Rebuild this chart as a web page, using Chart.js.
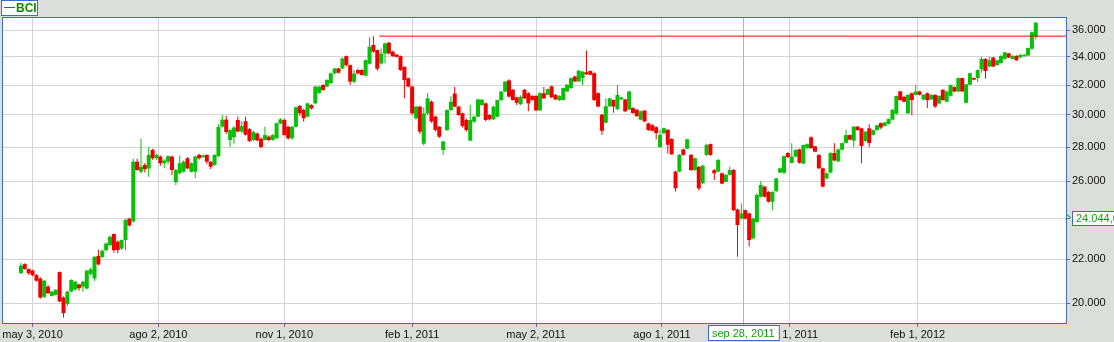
<!DOCTYPE html>
<html><head><meta charset="utf-8">
<style>html,body{margin:0;padding:0;background:#dcdedb;}canvas{display:block;}</style>
<script src="https://cdn.jsdelivr.net/npm/chart.js@4/dist/chart.umd.min.js"></script>
</head><body>
<canvas id="c" width="1114" height="342"></canvas>
<script>
const seriesName = "BCI";
const firstCandleDate = "2010-04-23";
const weekdaysPerCandle = 2;

const opens = [
21.34,21.76,21.53,21.46,21.25,21.10,20.28,20.73,20.32,20.37,
21.39,20.25,19.97,20.51,20.60,20.83,20.73,20.65,21.30,21.10,
22.15,22.10,22.42,22.67,23.22,22.84,22.50,22.92,24.00,23.85,
27.13,26.55,26.94,26.74,27.83,27.33,27.43,27.04,27.13,27.43,
25.96,26.46,26.55,27.33,26.55,26.55,27.53,27.40,27.53,27.13,
26.94,27.47,29.25,29.70,28.43,28.60,29.68,28.95,29.60,29.10,
28.43,28.82,28.50,28.43,28.63,28.43,28.53,29.45,29.68,29.25,
28.53,29.25,30.59,30.33,29.89,30.65,30.76,31.45,32.00,31.89,
32.12,32.81,33.16,33.16,34.05,33.40,32.23,33.05,33.05,32.65,
33.50,34.88,34.50,33.52,34.24,35.05,34.38,34.17,34.05,33.28,
32.47,31.89,29.79,30.54,28.20,30.10,30.87,29.90,29.25,27.82,
29.04,30.32,31.42,30.54,30.11,29.68,28.39,29.57,29.89,30.65,
30.76,30.00,29.72,29.89,30.98,31.55,32.32,31.67,31.16,30.70,
31.67,31.44,31.26,31.26,30.30,31.44,31.33,31.91,31.33,30.98,
30.98,31.56,31.79,32.59,32.25,32.48,32.89,32.98,32.82,31.44,
30.02,29.51,30.57,30.98,30.38,31.02,31.02,30.36,30.45,30.34,
29.70,30.28,29.46,29.35,29.22,28.00,28.84,29.06,28.49,26.56,
26.56,27.86,27.90,27.53,26.64,26.83,25.90,27.53,28.18,26.64,
26.56,26.46,25.98,26.37,26.65,24.48,24.00,24.44,24.27,23.00,
23.83,25.16,25.71,25.42,24.89,25.46,26.50,26.50,27.64,27.06,
27.43,27.86,27.02,27.93,28.59,28.04,27.53,26.75,26.17,26.50,
27.64,27.15,27.84,28.25,28.73,28.39,29.26,29.15,28.36,29.15,
28.74,29.04,29.48,29.30,29.43,29.70,30.08,31.56,31.20,30.11,
31.44,31.33,31.56,31.02,31.44,31.02,31.33,30.75,31.67,30.87,
31.26,31.86,31.56,32.48,30.80,32.02,32.48,32.48,33.09,33.85,
33.30,33.95,33.40,33.55,33.85,34.26,33.85,34.07,33.95,34.05,
34.10,34.60,35.50];
const highs = [
21.82,21.80,21.56,21.50,21.30,21.15,21.03,20.80,20.55,20.62,
21.42,20.30,20.55,21.06,21.00,20.86,21.00,21.50,21.60,22.15,
22.45,22.45,22.80,23.15,23.25,22.90,22.95,24.00,24.05,27.30,
27.30,28.50,27.05,28.02,27.90,27.60,27.50,27.30,27.50,27.50,
26.70,27.50,27.20,27.40,27.10,27.50,27.60,27.56,27.56,27.15,
27.56,29.40,30.00,29.95,29.10,29.30,29.90,29.60,29.90,29.15,
29.00,28.90,28.60,29.25,28.70,28.80,29.50,29.79,29.75,29.30,
29.30,30.55,30.65,30.40,30.80,30.70,31.95,31.95,32.05,32.40,
32.85,33.20,33.20,33.95,34.10,33.45,33.05,33.15,33.10,33.80,
35.46,35.55,34.55,34.62,35.05,35.10,34.45,34.20,34.10,33.30,
32.50,31.95,30.60,30.60,30.50,31.45,30.95,29.95,29.30,28.40,
30.35,31.24,31.88,30.60,30.15,29.75,30.65,29.95,31.05,31.05,
30.80,30.05,30.60,31.00,31.60,32.30,32.40,31.72,31.20,31.30,
31.72,31.50,31.30,31.30,31.50,31.86,31.76,31.95,31.38,31.30,
31.83,32.06,32.52,32.65,33.05,32.98,34.47,33.02,32.88,31.50,
30.08,31.09,31.14,31.02,32.02,31.20,31.06,31.60,30.50,30.38,
30.28,30.32,29.50,29.40,29.26,29.04,29.20,29.10,28.53,26.60,
27.58,27.90,28.50,27.58,27.38,26.88,26.95,28.20,28.22,26.70,
27.28,26.50,26.42,26.85,26.70,24.52,24.80,24.48,24.30,24.05,
25.35,26.03,25.75,25.46,25.46,26.21,26.79,27.49,27.68,28.23,
27.86,27.90,28.16,28.22,28.65,28.08,27.57,26.79,26.50,27.68,
28.23,27.90,28.28,29.06,28.77,29.30,29.30,29.19,28.98,29.40,
29.08,29.38,29.52,29.56,29.78,30.38,31.29,31.60,31.24,31.37,
31.48,32.02,31.60,31.37,31.48,31.37,31.37,31.30,31.71,31.60,
32.04,31.90,32.52,32.52,32.09,32.86,32.52,33.09,34.00,33.89,
34.00,33.99,33.79,34.11,34.37,34.30,34.11,34.11,34.19,34.19,
34.70,35.90,36.65];
const lows = [
21.30,21.50,21.27,21.20,20.95,20.20,20.23,20.40,20.30,20.34,
20.05,19.40,19.90,20.48,20.55,20.55,20.50,20.62,21.25,21.00,
21.70,22.05,22.38,22.60,22.30,22.28,22.45,22.43,23.60,23.80,
26.60,26.45,26.50,26.27,27.25,27.25,26.90,26.75,27.00,26.36,
25.80,26.40,26.50,26.70,26.50,26.20,27.25,27.35,27.00,26.70,
26.90,27.40,29.20,28.80,28.00,28.20,28.90,28.85,28.70,28.30,
28.35,28.35,27.95,28.40,28.35,28.38,28.50,29.40,28.70,28.45,
28.45,29.20,29.95,29.57,29.85,30.35,30.70,31.40,31.60,31.85,
32.08,32.75,32.80,33.10,33.30,32.00,32.10,32.75,32.65,32.60,
33.45,34.30,33.00,33.45,33.52,34.20,34.00,33.95,33.00,31.10,
31.85,30.00,29.70,28.80,28.10,30.00,29.50,28.95,28.55,27.53,
29.00,30.28,30.50,29.95,29.21,28.95,28.35,29.50,29.85,30.60,
29.60,29.65,29.68,29.85,30.90,31.50,31.15,30.95,30.65,30.65,
31.05,30.24,30.95,30.25,30.25,31.05,31.30,31.12,30.98,30.90,
30.95,31.52,31.75,32.20,32.20,31.98,32.70,32.68,30.92,30.50,
28.73,29.45,30.52,30.15,30.33,30.98,30.20,30.32,30.08,29.88,
29.66,29.55,29.00,28.96,28.46,27.95,28.80,27.61,27.52,25.44,
26.52,27.48,27.86,26.60,26.60,25.50,25.86,27.48,27.48,26.08,
26.52,25.84,25.94,26.33,24.40,22.11,23.95,23.96,22.60,22.95,
23.78,25.12,25.12,24.85,24.44,25.42,26.46,26.40,27.35,27.02,
27.39,27.02,26.98,27.89,27.89,27.68,26.71,25.67,26.13,26.46,
27.16,27.10,27.80,28.21,28.41,27.98,29.00,27.04,28.32,28.00,
28.70,29.00,29.10,29.26,29.39,29.66,30.04,30.94,30.83,30.07,
29.98,31.29,31.29,30.98,30.45,30.98,30.45,30.71,30.94,30.83,
31.22,31.52,31.52,31.52,30.76,31.98,32.33,32.20,32.86,32.43,
33.26,33.26,33.36,33.51,33.81,33.91,33.81,33.71,33.91,34.01,
34.05,34.50,35.30];
const closes = [
21.69,21.53,21.34,21.25,21.00,20.25,21.00,20.44,20.51,20.59,
20.08,19.58,20.51,21.03,20.95,20.66,20.95,21.45,21.52,22.10,
21.75,22.40,22.75,23.08,22.42,22.43,22.92,23.93,23.65,27.13,
26.65,26.84,26.70,27.53,27.33,27.53,27.04,27.20,27.46,26.65,
26.65,27.04,27.13,26.74,27.04,27.43,27.33,27.50,27.13,26.84,
27.53,29.23,29.70,28.92,29.04,29.20,28.95,29.30,28.75,28.36,
28.92,28.40,28.00,28.73,28.43,28.73,29.47,29.72,28.73,28.53,
29.25,30.50,30.11,29.79,30.76,30.43,31.89,31.89,31.66,32.35,
32.81,33.16,32.86,33.88,33.40,32.23,32.80,32.81,32.70,33.76,
34.75,34.38,33.14,34.24,35.00,34.24,34.05,34.00,33.05,32.35,
31.89,30.11,30.54,28.94,30.10,31.09,29.58,29.05,28.63,28.33,
30.32,30.87,30.54,30.00,29.30,29.04,29.68,29.89,31.02,31.00,
29.68,29.72,30.54,30.98,31.55,32.23,31.21,30.98,30.80,31.20,
31.09,30.76,30.98,30.30,31.44,31.09,31.72,31.16,31.02,31.26,
31.79,32.02,32.48,32.25,33.00,32.93,32.75,32.72,30.98,30.55,
29.00,30.57,31.09,30.55,31.33,31.16,30.24,31.56,30.13,29.92,
30.24,29.59,29.04,29.00,28.86,28.74,29.16,28.14,27.57,25.62,
27.53,27.53,28.47,26.64,27.33,25.62,26.90,28.12,27.53,26.46,
27.24,25.88,26.37,26.65,24.44,23.67,24.27,24.00,22.92,24.00,
25.25,25.80,25.16,24.89,25.42,26.17,26.75,27.45,27.39,27.43,
27.82,27.06,28.12,28.18,27.93,27.72,26.75,25.71,26.46,27.64,
27.20,27.86,28.24,28.73,28.45,29.26,29.04,28.06,28.94,28.24,
29.04,29.34,29.20,29.52,29.74,30.34,31.25,30.98,30.87,31.33,
30.98,31.56,31.33,31.33,30.98,31.33,30.56,31.26,30.98,31.56,
32.00,31.56,32.48,31.56,32.05,32.82,32.37,33.05,33.85,32.98,
33.75,33.30,33.75,34.07,34.33,33.95,34.07,33.75,34.15,34.15,
34.65,35.85,36.60];

const yTicks = [20,22,24,26,28,30,32,34,36];
const xTickLabels = ["may 3, 2010","ago 2, 2010","nov 1, 2010","feb 1, 2011","may 2, 2011","ago 1, 2011","nov 1, 2011","feb 1, 2012"];
const xTickDates = ["2010-05-03","2010-08-02","2010-11-01","2011-02-01","2011-05-02","2011-08-01","2011-11-01","2012-02-01"];
const resistanceLevel = 35.55;
const resistanceStartDate = "2011-01-07";
const cursorDate = "2011-09-28";
const cursorDateLabel = "sep 28, 2011";
const cursorPriceLabel = "24.044,0";
const cursorPrice = 24.044;

function weekdaysBetween(a, b) {
  const d = new Date(a + "T00:00:00Z"), e = new Date(b + "T00:00:00Z");
  let n = 0;
  while (d < e) { d.setUTCDate(d.getUTCDate() + 1); const w = d.getUTCDay(); if (w !== 0 && w !== 6) n++; }
  return n;
}
const toIndex = (date) => weekdaysBetween(firstCandleDate, date) / weekdaysPerCandle;
const xTickPos = xTickDates.map(toIndex);
const cursorIndex = toIndex(cursorDate);
const resistanceStart = toIndex(resistanceStartDate);

const GREEN = "#08c008", RED = "#f00000", BLUE = "#3c6dc6";
const candleColor = (i) => closes[i] >= opens[i] ? GREEN : RED;
const font = { family: "Liberation Sans", size: 11 };

const framePlugin = {
  id: "frame",
  beforeDraw(chart) {
    const { ctx, chartArea: a } = chart;
    ctx.save();
    ctx.fillStyle = "#dcdedb";
    ctx.fillRect(0, 0, chart.width, chart.height);
    ctx.fillStyle = "#ffffff";
    ctx.fillRect(a.left, a.top, a.right - a.left, a.bottom - a.top);
    ctx.restore();
  },
  beforeDatasetsDraw(chart) {
    const { ctx, chartArea: a } = chart;
    const x = Math.round(chart.scales.x.getPixelForValue(cursorIndex)) + 0.5;
    ctx.save();
    ctx.strokeStyle = "#b4b4b4";
    ctx.lineWidth = 1;
    ctx.beginPath(); ctx.moveTo(x, a.top); ctx.lineTo(x, a.bottom + 3); ctx.stroke();
    ctx.restore();
  },
  afterDraw(chart) {
    const { ctx, chartArea: a } = chart;
    ctx.save();
    ctx.strokeStyle = BLUE; ctx.lineWidth = 1;
    ctx.strokeRect(a.left + 0.5, a.top + 0.5, a.right - a.left, a.bottom - a.top);
    // legend box
    ctx.fillStyle = "#ffffff";
    ctx.fillRect(1.5, 0.5, 36, 15);
    ctx.strokeRect(1.5, 0.5, 36, 15);
    ctx.strokeStyle = "#0b8a0b"; ctx.lineWidth = 1;
    ctx.beginPath(); ctx.moveTo(4, 7.5); ctx.lineTo(15, 7.5); ctx.stroke();
    ctx.fillStyle = "#0b8a0b";
    ctx.font = "bold 12px 'Liberation Sans'";
    ctx.textBaseline = "middle"; ctx.textAlign = "left";
    ctx.fillText(seriesName, 16, 8.5);
    // cursor date box
    const cx = chart.scales.x.getPixelForValue(cursorIndex);
    ctx.font = "11px 'Liberation Sans'";
    const tw = ctx.measureText(cursorDateLabel).width + 8;
    const bx = Math.round(cx - tw / 2) + 0.5;
    ctx.fillStyle = "#ffffff";
    ctx.fillRect(bx, 325.5, tw, 15);
    ctx.strokeStyle = BLUE;
    ctx.strokeRect(bx, 325.5, tw, 15);
    ctx.fillStyle = "#139a13"; ctx.textAlign = "center";
    ctx.fillText(cursorDateLabel, cx, 333.5);
    // cursor price box
    const py = chart.scales.y.getPixelForValue(cursorPrice);
    ctx.strokeStyle = "#139a13";
    ctx.beginPath(); ctx.moveTo(a.right + 1, py - 3); ctx.lineTo(a.right + 5, py); ctx.stroke();
    ctx.fillStyle = "#ffffff";
    ctx.fillRect(a.right + 6.5, Math.round(py) - 6.5, 60, 14);
    ctx.strokeStyle = BLUE;
    ctx.strokeRect(a.right + 6.5, Math.round(py) - 6.5, 60, 14);
    ctx.fillStyle = "#139a13"; ctx.textAlign = "left";
    ctx.fillText(cursorPriceLabel, a.right + 10, Math.round(py) + 0.5);
    ctx.restore();
  }
};

new Chart(document.getElementById("c"), {
  type: "bar",
  data: {
    datasets: [
      {
        type: "line",
        data: [{ x: resistanceStart, y: resistanceLevel }, { x: 300, y: resistanceLevel }],
        borderColor: "#ff0000", borderWidth: 1, pointRadius: 0, order: 0, clip: 0
      },
      {
        data: opens.map((o, i) => ({ x: i, y: [lows[i], highs[i]] })),
        backgroundColor: (c) => candleColor(c.dataIndex),
        barThickness: 1, grouped: false, order: 2, minBarLength: 1, inflateAmount: 0
      },
      {
        data: opens.map((o, i) => ({ x: i, y: [o, closes[i]] })),
        backgroundColor: (c) => candleColor(c.dataIndex),
        barThickness: 4, grouped: false, order: 1, minBarLength: 1, inflateAmount: 0
      }
    ]
  },
  options: {
    responsive: false, animation: false, devicePixelRatio: 1,
    layout: { padding: { left: 2, top: 17, right: 0, bottom: 0 } },
    plugins: { legend: { display: false }, tooltip: { enabled: false } },
    scales: {
      x: {
        type: "linear", min: -4.88, max: 269.8, offset: false, bounds: "data",
        afterBuildTicks: (s) => { s.ticks = xTickPos.map((v) => ({ value: v })); },
        afterFit: (s) => { s.height = 19; },
        ticks: { callback: (v, i) => xTickLabels[i], autoSkip: false, maxRotation: 0, minRotation: 0, font, color: "#111", padding: 1 },
        grid: { color: "#d4d4d4", tickColor: "#4a6fb8", tickLength: 4, offset: false },
        border: { display: false }
      },
      y: {
        type: "logarithmic", position: "right", min: 19.17, max: 37.046, bounds: "data",
        afterBuildTicks: (s) => { s.ticks = yTicks.map((v) => ({ value: v })); },
        afterFit: (s) => { s.width = 48; },
        ticks: { callback: (v) => Number(v).toFixed(3), autoSkip: false, font, color: "#111", padding: 2 },
        grid: { color: "#d4d4d4", tickColor: "#4a6fb8", tickLength: 4 },
        border: { display: false }
      }
    }
  },
  plugins: [framePlugin]
});
</script>
</body></html>
